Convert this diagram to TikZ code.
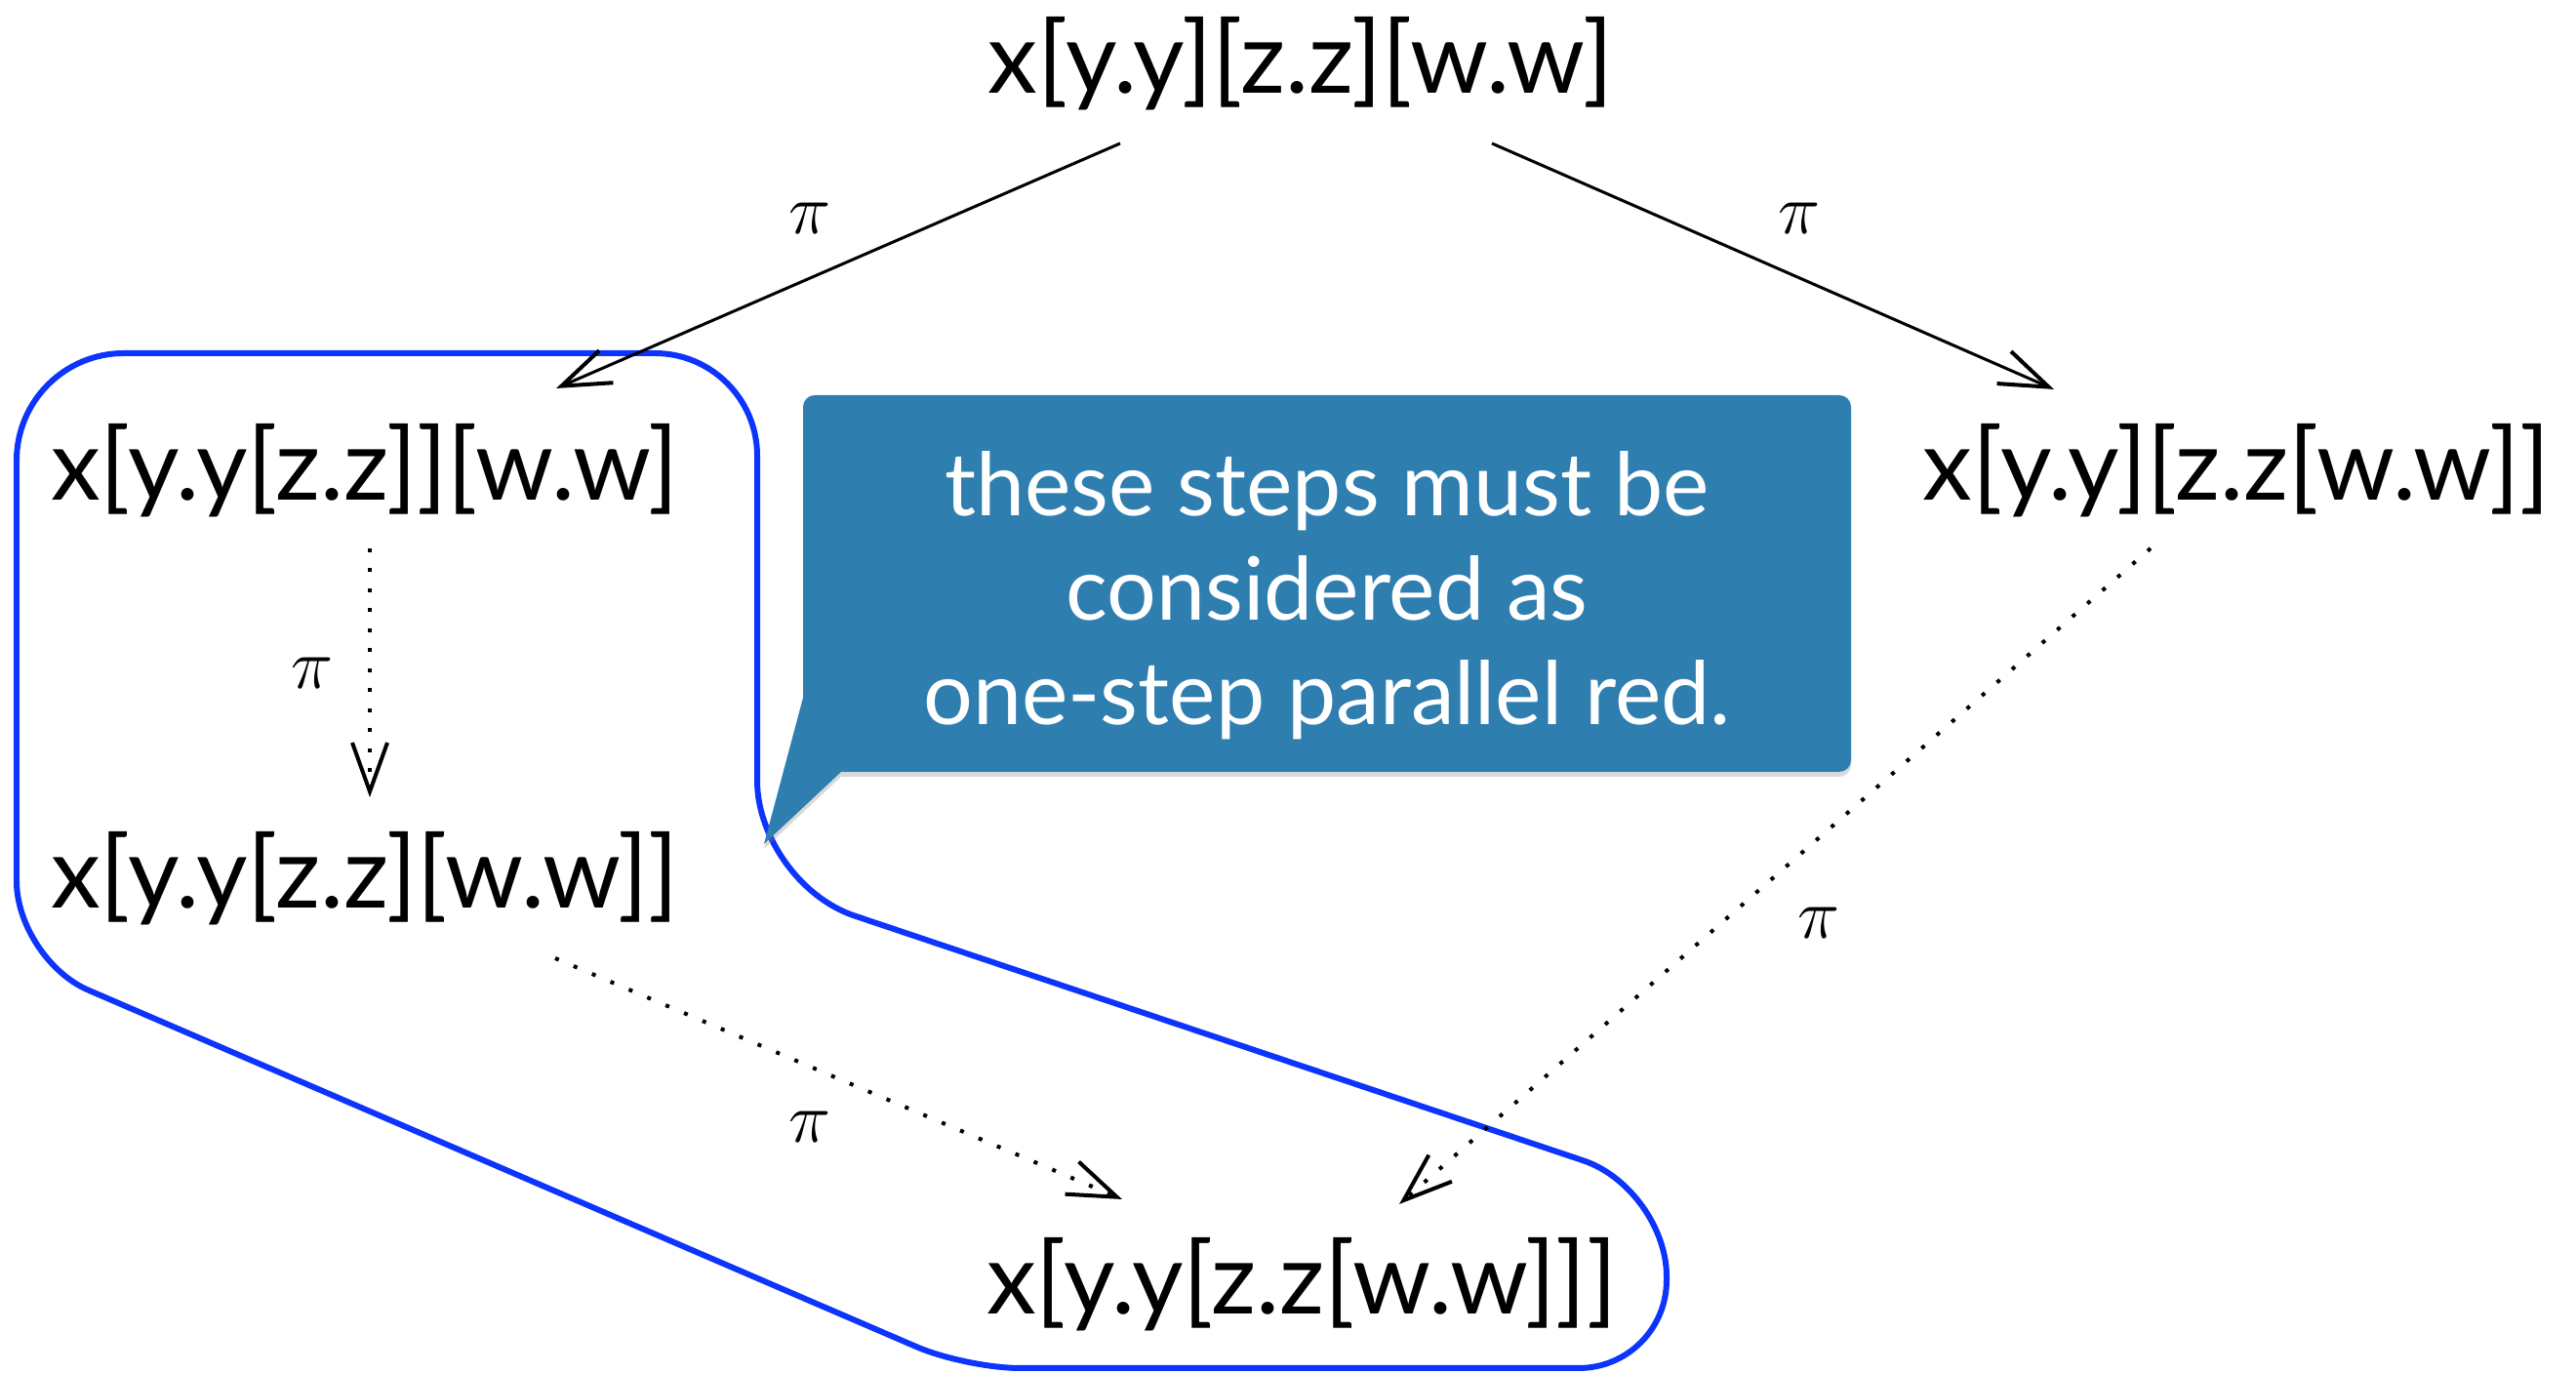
\documentclass[tikz,border=0pt]{standalone}
\usepackage{fontspec}
\setmainfont{Lato}
\usetikzlibrary{arrows.meta,shadows,calc}
\definecolor{callblue}{RGB}{47,126,176}
\definecolor{outlineblue}{RGB}{12,52,252}
\begin{document}
\begin{tikzpicture}[x=1cm,y=1cm,
  term/.style={inner sep=0pt, font=\fontsize{29}{34}\selectfont},
  lbl/.style={inner sep=0pt, font=\fontsize{21}{24}\selectfont},
  barb/.style={-{Straight Barb[length=0.5cm,width=0.36cm,line width=0.04cm]}},
  solidarrow/.style={line width=0.03cm, barb},
  dotarrow/.style={line width=0.04cm, dash pattern=on 0.04cm off 0.165cm, barb},
  notetext/.style={inner sep=0pt, align=center, text=white, font=\fontsize{25.5}{30.4}\selectfont}]
\useasboundingbox (0,0) rectangle (26.4,14.07);

% blue hand-drawn outline
\draw[outlineblue, line width=0.06cm, rounded corners=1.05cm]
  (4.00,10.45) -- (7.76,10.45) -- (7.76,5.02)
  [rounded corners=0.9cm] -- (17.08,1.89) -- (17.08,0.05)
  [rounded corners=0.55cm] -- (9.90,0.05)
  [rounded corners=0.8cm] -- (0.17,4.24)
  [rounded corners=1.1cm] -- (0.17,10.45) -- cycle;

% callout
\fill[callblue, drop shadow={shadow xshift=0pt, shadow yshift=-0.05cm, opacity=0.3}]
  (7.83,5.42) -- (8.23,6.92) [rounded corners=0.12cm] -- (8.23,10.02) -- (18.97,10.02) -- (18.97,6.16) [sharp corners] -- (8.62,6.16) -- cycle;
\node[notetext] (note) at (13.60,7.97) {these steps must be\\considered as\\one-step parallel red.};

% terms
\node[term] (top) at (13.33,13.42) {x[y.y][z.z][w.w]};
\node[term] (left1) at (3.74,9.25) {x[y.y[z.z]][w.w]};
\node[term] (left2) at (3.74,5.07) {x[y.y[z.z][w.w]]};
\node[term] (right) at (22.92,9.25) {x[y.y][z.z[w.w]]};
\node[term] (bottom) at (13.34,0.91) {x[y.y[z.z[w.w]]]};

% connectors
\draw[solidarrow] ([shift={(-1.85,-0.82)}]top.center) -- ([shift={(1.96,0.84)}]left1.center);
\draw[solidarrow] ([shift={(1.96,-0.82)}]top.center) -- ([shift={(-1.87,0.83)}]right.center);
\draw[dotarrow] ([shift={(0.05,-0.80)}]left1.center) -- ([shift={(0.05,0.83)}]left2.center);
\draw[dotarrow] ([shift={(1.95,-0.82)}]left2.center) -- ([shift={(-1.84,0.87)}]bottom.center);
\draw[dotarrow] ([shift={(-0.88,-0.80)}]right.center) -- ([shift={(1.00,0.82)}]bottom.center);

% labels
\node[lbl] (p1) at (8.30,11.83) {$\pi$};
\node[lbl] (p2) at (18.44,11.83) {$\pi$};
\node[lbl] (p3) at (3.20,7.17) {$\pi$};
\node[lbl] (p4) at (18.64,4.61) {$\pi$};
\node[lbl] (p5) at (8.30,2.52) {$\pi$};
\end{tikzpicture}
\end{document}
